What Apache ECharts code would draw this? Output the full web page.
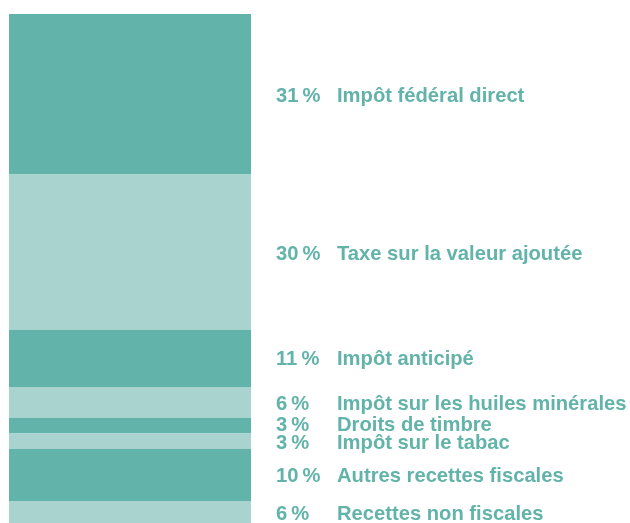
<!DOCTYPE html>
<html>
<head>
<meta charset="utf-8">
<script src="https://cdn.jsdelivr.net/npm/echarts@6/dist/echarts.min.js"></script>
<style>
  html, body { margin: 0; padding: 0; background: #ffffff; }
  #chart { width: 630px; height: 523px; }
</style>
</head>
<body>
<div id="chart"></div>
<script>
// Recettes de la Confédération, parts en pour cent
const categories = [
  'Impôt fédéral direct',
  'Taxe sur la valeur ajoutée',
  'Impôt anticipé',
  'Impôt sur les huiles minérales',
  'Droits de timbre',
  'Impôt sur le tabac',
  'Autres recettes fiscales',
  'Recettes non fiscales'
];
const shares = [31, 30, 11, 6, 3, 3, 10, 6];
// vertical nudge of each label so tight rows stay readable
const labelNudge = [2, 2, 1, 2, 0, 2, 1, -2];

const darkTeal = '#62b3a9';
const lightTeal = '#a9d3ce';

const textStyle = {
  fontFamily: 'Liberation Sans, Arial, sans-serif',
  fontWeight: 'bold',
  fontSize: 20.2,
  color: darkTeal
};

const series = categories.map((name, i) => ({
  name: name,
  type: 'bar',
  stack: 'total',
  barWidth: '100%',
  data: [shares[i]],
  itemStyle: { color: i % 2 === 0 ? darkTeal : lightTeal },
  label: {
    show: true,
    position: 'right',
    distance: 25,
    offset: [0, labelNudge[i]],
    formatter: () => '{p|' + shares[i] + '\u2009%}{n|' + name + '}',
    rich: {
      p: Object.assign({ width: 61 }, textStyle),
      n: Object.assign({}, textStyle)
    }
  },
  emphasis: { disabled: true },
  animation: false
}));

const chart = echarts.init(document.getElementById('chart'), null, { renderer: 'canvas' });
chart.setOption({
  animation: false,
  grid: { left: 9, top: 14, width: 242, height: 518, outerBoundsMode: 'none', containLabel: false },
  xAxis: {
    type: 'category',
    data: ['Recettes'],
    show: false
  },
  yAxis: {
    type: 'value',
    min: 0,
    max: 100,
    inverse: true,
    show: false
  },
  series: series
});
</script>
</body>
</html>
